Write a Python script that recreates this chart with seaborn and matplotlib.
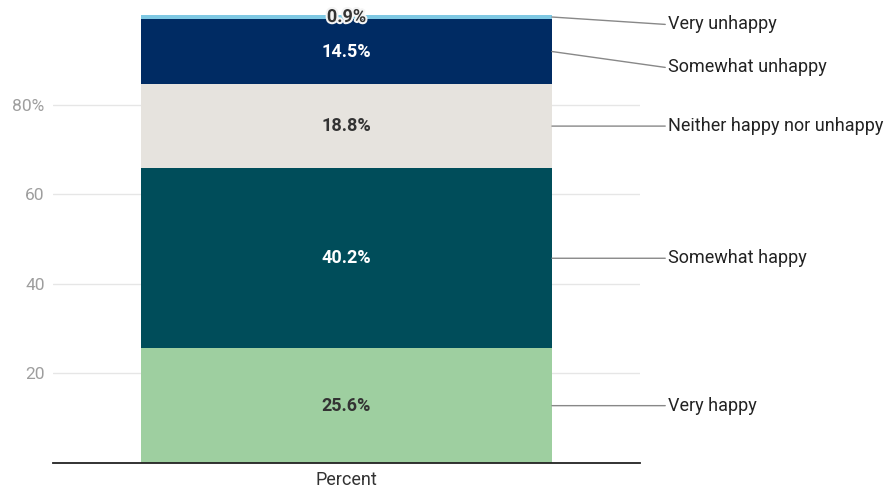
import matplotlib
matplotlib.use("Agg")
import matplotlib.pyplot as plt
import matplotlib.patheffects as pe
import seaborn as sns
import numpy as np

categories = ["Very happy", "Somewhat happy", "Neither happy nor unhappy",
              "Somewhat unhappy", "Very unhappy"]
values = [25.6, 40.2, 18.8, 14.5, 0.9]
colors = ["#9ecfa0", "#004d5a", "#e6e3de", "#002b63", "#7ec8e3"]
label_colors = ["#333333", "#ffffff", "#333333", "#ffffff", "#333333"]
xcat = "Percent"
yticks = [20, 40, 60, 80]
ytick_labels = ["20", "40", "60", "80%"]

sns.set_style("white")
plt.rcParams["font.family"] = ["Roboto", "DejaVu Sans"]

fig = plt.figure(figsize=(8.85, 4.92), dpi=100)
ax = fig.add_axes([53 / 885, 29 / 492, 587 / 885, 448 / 492])

bottoms = np.concatenate([[0], np.cumsum(values)[:-1]])
for v, b, c in zip(values, bottoms, colors):
    sns.barplot(x=[xcat], y=[v], bottom=b, color=c, saturation=1,
                width=0.7, ax=ax, linewidth=0)

ax.set_ylim(0, 100)
ax.set_xlim(-0.5, 0.5)
ax.set_yticks(yticks)
ax.set_yticklabels(ytick_labels)
ax.tick_params(axis="y", length=0, pad=6, labelsize=12.5, labelcolor="#9e9e9e")
ax.tick_params(axis="x", length=0, pad=6, labelsize=13, labelcolor="#333333")
ax.set_xlabel("")
ax.set_ylabel("")
ax.grid(axis="y", color="#e6e6e6", linewidth=1)
ax.set_axisbelow(True)
for s in ["top", "right", "left"]:
    ax.spines[s].set_visible(False)
ax.spines["bottom"].set_color("#222222")
ax.spines["bottom"].set_linewidth(1.3)

# value labels
mids = bottoms + np.array(values) / 2
for m, v, lc in zip(mids, values, label_colors):
    t = ax.text(0, m, f"{v:.1f}%", ha="center", va="center", fontsize=13,
                fontweight="bold", color=lc, clip_on=False)
    if v < 3:
        t.set_path_effects([pe.withStroke(linewidth=3, foreground="#f4f4f4")])

# category labels with leader lines
label_y = []
cap = 97.9
gap = 9.6
prev = None
for m in mids[::-1]:
    y = min(m, cap) if prev is None else min(m, prev - gap)
    label_y.append(y)
    prev = y
label_y = label_y[::-1]
trans = matplotlib.transforms.blended_transform_factory(ax.transAxes, ax.transData)
for cat, m, ly in zip(categories, mids, label_y):
    ax.annotate("", xy=(0.35, m), xycoords="data",
                xytext=(1.043, ly), textcoords=trans,
                arrowprops=dict(arrowstyle="-", color="#888888", lw=1,
                                shrinkA=0, shrinkB=0), annotation_clip=False)
    ax.text(1.048, ly, cat, transform=trans, ha="left", va="center",
            fontsize=13, color="#222222", clip_on=False)

fig.savefig("out.png", dpi=100)
